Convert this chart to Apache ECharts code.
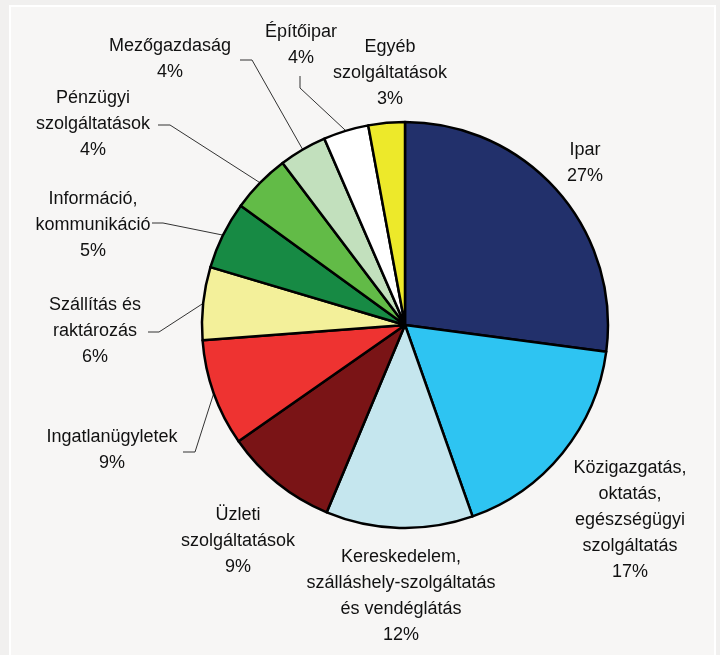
<!DOCTYPE html>
<html><head><meta charset="utf-8">
<script src="https://cdn.jsdelivr.net/npm/echarts@6/dist/echarts.min.js"></script>
<style>html,body{margin:0;padding:0;background:#f1f0ef;}#c{width:720px;height:655px;}</style>
</head><body><div id="c"></div>
<script>
// ---- data ----
const categories = [
  'Ipar',
  'Közigazgatás,\noktatás,\negészségügyi\nszolgáltatás',
  'Kereskedelem,\nszálláshely-szolgáltatás\nés vendéglátás',
  'Üzleti\nszolgáltatások',
  'Ingatlanügyletek',
  'Szállítás és\nraktározás',
  'Információ,\nkommunikáció',
  'Pénzügyi\nszolgáltatások',
  'Mezőgazdaság',
  'Építőipar',
  'Egyéb\nszolgáltatások'
];
const shares = [27.1, 17.5, 11.7, 9.0, 8.5, 5.8, 5.4, 4.7, 3.8, 3.6, 2.9];
const shownPercents = [27, 17, 12, 9, 9, 6, 5, 4, 4, 4, 3];

// ---- styles / layout ----
const colors = ['#22306b', '#2ec4f2', '#c5e6ee', '#7a1416', '#ee3331', '#f3f09a',
                '#178a44', '#62bb47', '#c2e0bd', '#ffffff', '#ede92a'];
const labelCenters = [[585,163],[630,520],[401,596],[238,541],[112,450],[95,331],
                      [93,225],[93,124],[170,59],[301,45],[390,73]];
const lineTails = [null, null, null, null,
  [[195,452],[183,452]],
  [[159,332],[148,332]],
  [[163,223],[152,223]],
  [[170,125],[158,125]],
  [[252,60],[240,60]],
  [[300,88],[300,76]],
  null];

const chart = echarts.init(document.getElementById('c'));
const data = categories.map((name, i) => ({
  name: name,
  value: shares[i],
  itemStyle: { color: colors[i] },
  labelLine: { show: !!lineTails[i] }
}));

chart.setOption({
  backgroundColor: 'transparent',
  animation: false,
  graphic: [{
    type: 'rect', z: -10, silent: true,
    shape: { x: 10, y: 6, width: 705, height: 700 },
    style: { fill: '#f7f6f5', stroke: '#ffffff', lineWidth: 2 }
  }],
  series: [{
    type: 'pie',
    center: [405, 325],
    radius: 203,
    startAngle: 90,
    clockwise: true,
    avoidLabelOverlap: false,
    data: data,
    itemStyle: { borderColor: '#000000', borderWidth: 2.5 },
    emphasis: { disabled: true },
    label: {
      show: true,
      position: 'outside',
      formatter: p => p.name + '\n' + shownPercents[p.dataIndex] + '%',
      fontFamily: '"Liberation Sans", Arial, sans-serif',
      fontSize: 18,
      lineHeight: 26,
      color: '#111111',
      align: 'center'
    },
    labelLine: {
      show: true,
      lineStyle: { color: '#333333', width: 1 }
    },
    labelLayout: function (params) {
      const i = params.dataIndex;
      const c = labelCenters[i];
      const out = {
        x: c[0], y: c[1],
        align: 'center', verticalAlign: 'middle'
      };
      if (lineTails[i] && params.labelLinePoints) {
        const p0 = params.labelLinePoints[0];
        out.labelLinePoints = [[p0[0], p0[1]], lineTails[i][0], lineTails[i][1]];
      }
      return out;
    }
  }]
});
</script></body></html>
